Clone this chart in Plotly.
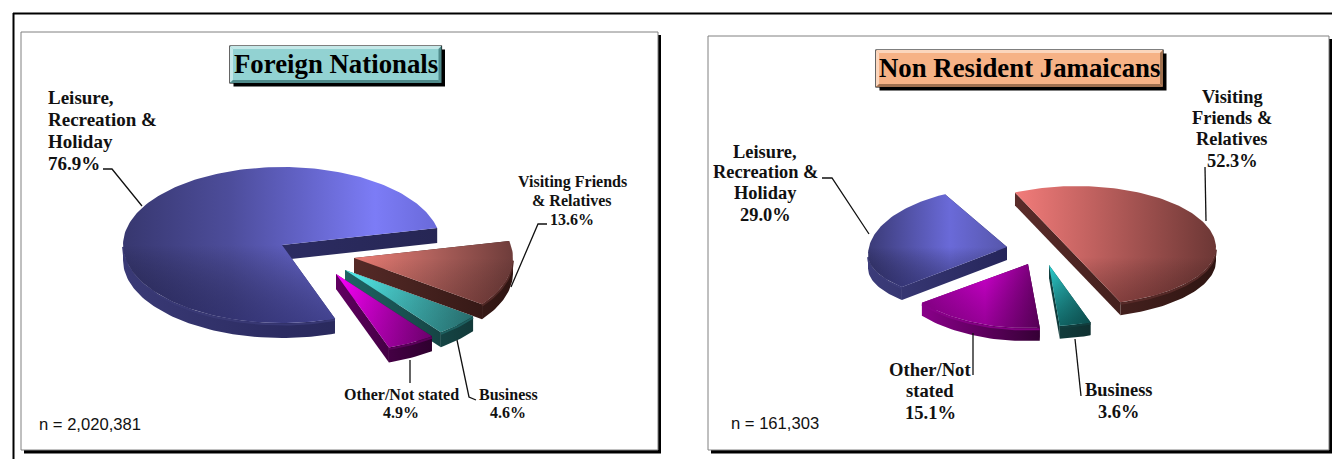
import math
import plotly.graph_objects as go

# ---------- data ----------
CATEGORIES = ["Leisure, Recreation & Holiday", "Visiting Friends & Relatives", "Business", "Other/Not stated"]
FOREIGN_VALUES = [76.9, 13.6, 4.6, 4.9]
JAMAICAN_VALUES = [29.0, 52.3, 3.6, 15.1]
FOREIGN_TITLE = "Foreign Nationals"
JAMAICAN_TITLE = "Non Resident Jamaicans"
FOREIGN_N = "n = 2,020,381"
JAMAICAN_N = "n = 161,303"
FOREIGN_LABELS = [["Leisure,", "Recreation &", "Holiday"], ["Visiting Friends", "& Relatives"], ["Business"], ["Other/Not stated"]]
JAMAICAN_LABELS = [["Leisure,", "Recreation &", "Holiday"], ["Visiting", "Friends &", "Relatives"], ["Business"], ["Other/Not", "stated"]]

# ---------- geometry / style ----------
SERIF = "Liberation Serif"
SANS = "Liberation Sans"
BLUE = dict(top=[(123, "#37376f"), (230, "#4d4d9b"), (300, "#6262c6"), (375, "#7c7cf6"), (436, "#6a6ada")],
            side=[(123, "#3a3a76"), (280, "#2c2c62"), (440, "#262654")], shade="rgba(30,30,80,0.55)")
RED = dict(top=[(355, "#ea7c74"), (430, "#b0615c"), (512, "#6f3d3b")],
           side=[(355, "#552a27"), (512, "#2f1512")], shade="rgba(50,15,15,0.25)")
TEAL = dict(top=[(345, "#55f2f2"), (472, "#2f7c7c")],
            side=[(345, "#1f6464"), (472, "#123a3a")], shade="rgba(0,40,40,0.2)")
MAG = dict(top=[(336, "#ff00ff"), (432, "#7a007a")],
           side=[(336, "#600060"), (432, "#2e002e")], shade="rgba(40,0,40,0.2)")
BLUE_R = dict(top=[(867, "#3a3a76"), (950, "#6a6ad8"), (1008, "#5656aa")],
              side=[(867, "#3c3c7a"), (1008, "#25255a")], shade="rgba(30,30,80,0.5)")
RED_R = dict(top=[(1015, "#f27c7a"), (1090, "#c26260"), (1216, "#6c3735")],
             side=[(1015, "#5a2c2a"), (1216, "#2f1512")], shade="rgba(50,15,15,0.35)")
TEAL_R = dict(top=[(1049, "#2cd2d2"), (1092, "#1d8080")],
              side=[(1049, "#123f3f"), (1092, "#0f3030")], shade="rgba(0,40,40,0.6)")
MAG_R = dict(top=[(922, "#a000a0"), (985, "#d000d0"), (1040, "#6c006c")],
             side=[(922, "#8a008a"), (1040, "#350035")], shade="rgba(40,0,40,0.35)")

# apex = wedge tip; rim = (centre x, centre y, back radius, front radius) of the slice's perspective ellipse
PIES = [
    dict(values=FOREIGN_VALUES, start=12.6, rx=159, depth=15,
         apex=[(282, 245), (354, 258), (345, 270), (336, 274)],
         rim=[(282, 245, 78, 78), (354, 258, 78, 78), (345, 270, 78, 78), (336, 274, 78, 78)],
         styles=[BLUE, RED, TEAL, MAG], draw=[0, 1, 2, 3]),
    dict(values=JAMAICAN_VALUES, start=116.5, rx=139, depth=13,
         apex=[(1007, 247), (1077, 257), (1049, 265), (1028, 264)],
         rim=[(1007, 255, 68, 49), (1077, 248, 62, 57), (1047, 253, 73, 73), (1027, 255, 73, 73)],
         styles=[BLUE_R, RED_R, TEAL_R, MAG_R], draw=[1, 0, 2, 3]),
]
CLOCKWISE = [1, 2, 3, 0]   # slice order, clockwise from the start angle


def scale(stops):
    x0, x1 = stops[0][0], stops[-1][0]
    return dict(type="horizontal", start=x0, stop=x1,
                colorscale=[[(x - x0) / (x1 - x0), c] for x, c in stops])


def poly(xs, ys, grad):
    return go.Scatter(x=xs, y=ys, mode="lines", fill="toself", line=dict(width=0),
                      fillgradient=grad, hoverinfo="skip", showlegend=False)


def arc(rim, rx, a, b, front_only=False):
    cx, cy, back, front = rim
    n = max(2, int(abs(b - a) / 1.5) + 1)
    pts = []
    for i in range(n + 1):
        t = math.radians(a + (b - a) * i / n)
        s = math.sin(t)
        if front_only and s > 0.001:
            continue
        pts.append((cx + rx * math.cos(t), cy - (back if s > 0 else front) * s))
    return pts


fig = go.Figure()

for pie in PIES:
    ang = pie["start"]
    spans = {}
    for idx in CLOCKWISE:
        sweep = pie["values"][idx] / sum(pie["values"]) * 360
        spans[idx] = (ang, ang - sweep)
        ang -= sweep
    for idx in pie["draw"]:
        a, b = spans[idx]
        c = pie["apex"][idx]
        r = pie["rim"][idx]
        st = pie["styles"][idx]
        rx, d = pie["rx"], pie["depth"]
        side = scale(st["side"])
        rim = arc(r, rx, a, b)
        # radial side faces
        for corner in (rim[0], rim[-1]):
            fig.add_trace(poly([c[0], corner[0], corner[0], c[0], c[0]],
                               [c[1], corner[1], corner[1] + d, c[1] + d, c[1]], side))
        # outer curved side
        fr = arc(r, rx, a, b, front_only=True)
        if len(fr) > 1:
            low = [(x, y + d) for x, y in fr][::-1]
            ring = fr + low + fr[:1]
            fig.add_trace(poly([p[0] for p in ring], [p[1] for p in ring], side))
            band = [(x, y + 1.5) for x, y in fr]
            fig.add_trace(go.Scatter(x=[p[0] for p in band], y=[p[1] for p in band], mode="lines",
                                     line=dict(color=st["side"][0][1], width=2),
                                     opacity=0.9, hoverinfo="skip", showlegend=False))
        # top surface
        outline = [c] + rim + [c]
        xs, ys = [p[0] for p in outline], [p[1] for p in outline]
        fig.add_trace(poly(xs, ys, scale(st["top"])))
        fig.add_trace(poly(xs, ys, dict(type="vertical", start=c[1], stop=max(ys),
                                        colorscale=[[0, "rgba(0,0,0,0)"], [1, st["shade"]]])))

# ---------- leader lines ----------
LEADERS = [
    [(103, 169), (112, 169), (142, 206)],
    [(547, 224), (538, 224), (511, 287)],
    [(410, 360), (410, 383)],
    [(457, 340), (469, 397), (476, 400)],
    [(822, 178), (832, 178), (869, 234)],
    [(1205, 167), (1206, 221)],
    [(973, 333), (973, 375)],
    [(1075, 339), (1081, 396)],
]
for pts in LEADERS:
    fig.add_trace(go.Scatter(x=[p[0] for p in pts], y=[p[1] for p in pts], mode="lines",
                             line=dict(color="#111111", width=1.3), hoverinfo="skip", showlegend=False))


def label(lines, value, x, ys, size, align="center"):
    for s, y in zip(lines + ["%.1f%%" % value], ys):
        fig.add_annotation(x=x, y=y, text="<b>%s</b>" % s, showarrow=False, align=align,
                           xanchor="left" if align == "left" else "center", yanchor="middle",
                           font=dict(family=SERIF, size=size, color="#111111"))


label(FOREIGN_LABELS[0], FOREIGN_VALUES[0], 46, [97, 119, 141, 163], 19, "left")
label(FOREIGN_LABELS[1], FOREIGN_VALUES[1], 572, [182, 200, 219], 16)
label(FOREIGN_LABELS[3], FOREIGN_VALUES[3], 401, [394, 412], 16)
label(FOREIGN_LABELS[2], FOREIGN_VALUES[2], 508, [394, 412], 16)
label(JAMAICAN_LABELS[0], JAMAICAN_VALUES[0], 765, [152, 172, 193, 215], 18.4)
label(JAMAICAN_LABELS[1], JAMAICAN_VALUES[1], 1232, [97, 118, 139, 161], 18.4)
label(JAMAICAN_LABELS[3], JAMAICAN_VALUES[3], 930, [369, 390, 412], 18.6)
label(JAMAICAN_LABELS[2], JAMAICAN_VALUES[2], 1118, [390, 412], 18.4)

for txt, x, y in [(FOREIGN_N, 37, 424), (JAMAICAN_N, 729, 423)]:
    fig.add_annotation(x=x, y=y, text=txt, showarrow=False, xanchor="left", yanchor="middle",
                       font=dict(family=SANS, size=16.6, color="#111111"))

# ---------- panels and title boxes ----------
shapes = []


def rect(x0, y0, x1, y1, fill, line=None, lw=0):
    shapes.append(dict(type="rect", xref="x", yref="y", x0=x0, y0=y0, x1=x1, y1=y1, layer="below",
                       fillcolor=fill, line=dict(color=line or fill, width=lw)))


# outer black frame lines
rect(13, 12.5, 1332, 14.5, "#000000")
rect(12.5, 13, 14.5, 459, "#000000")
# left panel
rect(24, 35, 661, 453.5, "#000000")
rect(21, 32, 658, 450, "#ffffff", "#808080", 1)
# right panel
rect(711, 39, 1332, 453.5, "#000000")
rect(708, 36, 1329, 450, "#ffffff", "#808080", 1)


def titlebox(x0, y0, x1, y1, face, light, dark):
    b = 3
    rect(x0 + 3.5, y0 + 3.5, x1 + 3.5, y1 + 3.5, "#000000")
    rect(x0, y0, x1, y1, face, "#000000", 1.2)
    for path, col in [
        (f"M{x0},{y0} L{x1},{y0} L{x1-b},{y0+b} L{x0+b},{y0+b} Z", light),
        (f"M{x0},{y0} L{x0+b},{y0+b} L{x0+b},{y1-b} L{x0},{y1} Z", light),
        (f"M{x1},{y0} L{x1},{y1} L{x1-b},{y1-b} L{x1-b},{y0+b} Z", dark),
        (f"M{x0},{y1} L{x1},{y1} L{x1-b},{y1-b} L{x0+b},{y1-b} Z", dark),
    ]:
        shapes.append(dict(type="path", path=path, layer="below", fillcolor=col, line=dict(width=0)))


titlebox(230, 46, 441.5, 83, "#92d2d2", "#c4e8e8", "#4f8a8a")
titlebox(876, 50, 1163, 87, "#f6b286", "#fbd6bd", "#a0704f")

for txt, x, y in [(FOREIGN_TITLE, 335.5, 64), (JAMAICAN_TITLE, 1019.5, 68)]:
    fig.add_annotation(x=x, y=y, text="<b>%s</b>" % txt, showarrow=False,
                       font=dict(family=SERIF, size=26.8, color="#000000"))

fig.update_layout(
    width=1332, height=459, margin=dict(l=0, r=0, t=0, b=0),
    paper_bgcolor="#ffffff", plot_bgcolor="#ffffff", showlegend=False, shapes=shapes,
    xaxis=dict(range=[0, 1332], visible=False, fixedrange=True),
    yaxis=dict(range=[459, 0], visible=False, fixedrange=True),
)
fig.write_html("out.html", config=dict(displayModeBar=False),
               post_script="document.body.style.margin='0';document.body.style.overflow='hidden';")
